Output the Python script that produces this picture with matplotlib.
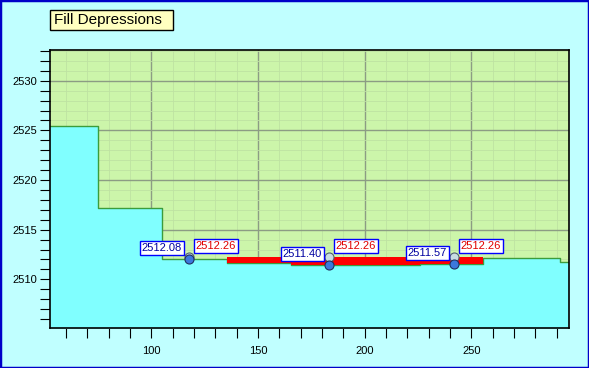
import matplotlib
matplotlib.use("Agg")
import matplotlib.pyplot as plt
from matplotlib.patches import Rectangle
from matplotlib.ticker import MultipleLocator

plt.rcParams["font.family"] = ["Liberation Sans", "DejaVu Sans"]

# --- profile data (station, elevation), stepped ---
ground_x = [52.5, 75.1, 105.1, 135.3, 165.5, 195.5, 225.9, 255.4, 291.5, 295.5]
ground_z = [2525.4, 2517.2, 2512.10, 2511.60, 2511.40, 2511.48, 2511.57, 2512.15, 2511.70, 2511.70]

# depressions: minimum point and filled level
pit_x = [117.6, 183.2, 241.8]
pit_low = [2512.08, 2511.40, 2511.57]
pit_fill = [2512.26, 2512.26, 2512.26]
fill_level = 2512.26

W, H = 589, 368
fig = plt.figure(figsize=(W / 100, H / 100), dpi=100, facecolor="#C0FFFF")
ax = fig.add_axes([50 / W, 1 - 328 / H, 518.5 / W, 278 / H])
ax.set_facecolor("#CCF5AA")
ax.set_xlim(52.5, 295.5)
ax.set_ylim(2505.1, 2533.1)

# grid
ax.set_axisbelow(True)
ax.xaxis.set_major_locator(MultipleLocator(50))
ax.xaxis.set_minor_locator(MultipleLocator(10))
ax.yaxis.set_major_locator(MultipleLocator(5))
ax.yaxis.set_minor_locator(MultipleLocator(1))
ax.grid(which="major", color="#8C9C84", lw=1.0)
ax.grid(which="minor", color="#BEE2A2", lw=0.6)

# ground
ax.fill_between(ground_x, ground_z, 2500, step="post", color="#80FFFF", lw=0, zorder=1)
ax.step(ground_x, ground_z, where="post", color="#3C9C3C", lw=1.0, zorder=2)

# filled depressions
ax.fill_between(ground_x[3:8], ground_z[3:8], fill_level, step="post",
                color="#FF0000", lw=0, zorder=3)

# points
ax.plot(pit_x, pit_fill, "o", ms=6.5, mfc="#C8DCE2", mec="#506070", mew=0.8, zorder=4)
ax.plot(pit_x, pit_low, "o", ms=6.5, mfc="#3C78DC", mec="#203060", mew=0.8, zorder=5)

box = dict(boxstyle="square,pad=0.18", fc="white", ec="#0000FF", lw=1)
for x, lo, hi in zip(pit_x, pit_low, pit_fill):
    ax.annotate(f"{lo:.2f}", xy=(x, lo), xytext=(-7, 6), textcoords="offset pixels",
                ha="right", va="bottom", fontsize=8, color="#0000A0", bbox=box, zorder=6)
    ax.annotate(f"{hi:.2f}", xy=(x, hi), xytext=(7, 6), textcoords="offset pixels",
                ha="left", va="bottom", fontsize=8, color="#E00000", bbox=box, zorder=6)

# axes styling
for s in ax.spines.values():
    s.set_color("black")
    s.set_linewidth(1.2)
ax.tick_params(which="both", direction="out", length=7.2, width=0.8, color="black")
ax.tick_params(axis="x", pad=6, labelsize=8)
ax.tick_params(axis="y", pad=2, labelsize=8)

# title box
fig.patches.append(Rectangle((50 / W, 1 - 30 / H), 123 / W, 20 / H, transform=fig.transFigure,
                             fc="#FFFFC0", ec="black", lw=1))
fig.text(54 / W, 1 - 20 / H, "Fill Depressions", ha="left", va="center", fontsize=11)

# window frame
fig.patches.append(Rectangle((0, 0), 1, 1, transform=fig.transFigure, fill=False,
                             ec="#0000C8", lw=2.5))

plt.savefig("out.png", dpi=100, facecolor=fig.get_facecolor())
plt.close()
